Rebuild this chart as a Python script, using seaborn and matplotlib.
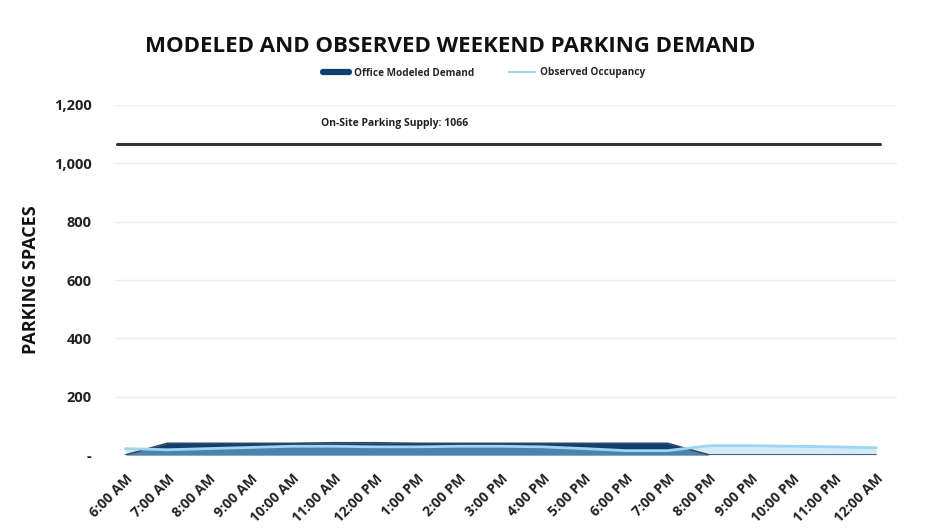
import numpy as np
import pandas as pd
import matplotlib.pyplot as plt
from matplotlib.lines import Line2D
import seaborn as sns

# Données
hours = ['6:00 AM', '7:00 AM', '8:00 AM', '9:00 AM', '10:00 AM', '11:00 AM',
         '12:00 PM', '1:00 PM', '2:00 PM', '3:00 PM', '4:00 PM', '5:00 PM',
         '6:00 PM', '7:00 PM', '8:00 PM', '9:00 PM', '10:00 PM', '11:00 PM',
         '12:00 AM']
modeled = [0, 40, 40, 40, 40, 42, 42, 40, 40, 40, 40, 40, 40, 40, 0, 0, 0, 0, 0]
observed = [22, 18, 22, 26, 30, 30, 28, 28, 30, 30, 28, 22, 15, 15, 32, 32, 30, 28, 25]
supply = 1066

NAVY = '#0f3f70'
LIGHT = '#9fd4f2'

df = pd.DataFrame({
    'x': list(range(len(hours))) * 2,
    'value': modeled + observed,
    'serie': ['Office Modeled Demand'] * len(hours) + ['Observed Occupancy'] * len(hours),
})

sns.set_style('white')
plt.rcParams['font.family'] = ['Open Sans', 'DejaVu Sans']

fig = plt.figure(figsize=(9.48, 5.31), dpi=100)
ax = fig.add_axes([115 / 948, 1 - 455 / 531, (897 - 115) / 948, 350 / 531])

x = np.arange(len(hours))
ax.fill_between(x, modeled, color=NAVY, lw=0, zorder=2)
ax.fill_between(x, observed, color=LIGHT, alpha=0.45, lw=0, zorder=3)
sns.lineplot(data=df, x='x', y='value', hue='serie',
             palette={'Office Modeled Demand': NAVY, 'Observed Occupancy': LIGHT},
             ax=ax, legend=False, zorder=4)
ax.lines[0].set_linewidth(1.2)
ax.lines[0].set_color('#34495e')
ax.lines[1].set_linewidth(2)

# Ligne de capacité
ax.plot([-0.2, len(hours) - 0.9], [supply, supply], color='#333333', lw=2.2, zorder=5)
ax.text(6.45, supply + 70, 'On-Site Parking Supply: %d' % supply,
        ha='center', va='center', fontsize=7.5, fontweight='bold', color='#222222')

# Légende manuelle
handles = [Line2D([], [], color=NAVY, lw=4.5), Line2D([], [], color=LIGHT, lw=1.5)]
leg = fig.legend(handles, ['Office Modeled Demand', 'Observed Occupancy'],
                 loc='center', bbox_to_anchor=(484 / 948, 1 - 73 / 531), ncol=2,
                 frameon=False, fontsize=7.2, handlelength=2.6, columnspacing=3.5,
                 handletextpad=0.5)
for t in leg.get_texts():
    t.set_fontweight('bold')

ax.set_ylim(0, 1200)
ax.set_xlim(-0.25, 18.5)
ax.set_yticks([0, 200, 400, 600, 800, 1000, 1200])
ax.set_yticklabels(['-', '200', '400', '600', '800', '1,000', '1,200'],
                   fontsize=10.5, fontweight='bold', color='#222222')
ax.set_xticks(x)
ax.set_xticklabels(hours, rotation=45, ha='right', rotation_mode='anchor',
                   fontsize=10, fontweight='bold', color='#222222')
ax.tick_params(axis='y', length=0, pad=17)
ax.tick_params(axis='x', length=0, pad=12)
ax.grid(axis='y', color='#eeeeee', lw=1)
ax.set_axisbelow(True)
sns.despine(ax=ax, left=True, bottom=True)
ax.set_xlabel('')
ax.set_ylabel('PARKING SPACES', fontsize=13, fontweight='bold', color='#111111', labelpad=10)

fig.text(450 / 948, 1 - 46 / 531, 'MODELED AND OBSERVED WEEKEND PARKING DEMAND',
         ha='center', va='center', fontsize=16, fontweight='bold', color='#111111')

fig.savefig('out.png', dpi=100)
plt.close()
